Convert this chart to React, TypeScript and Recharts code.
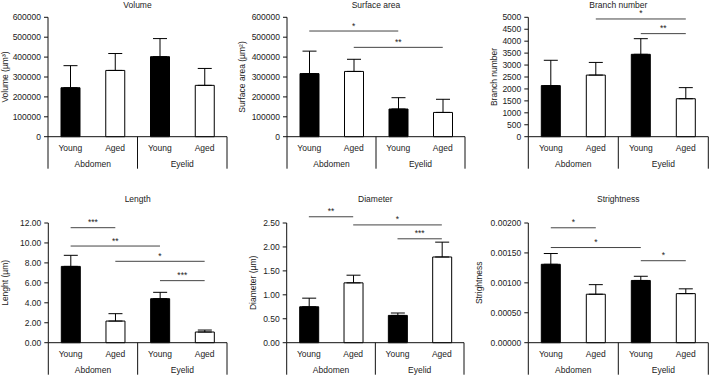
import { BarChart, Bar, XAxis, YAxis, ErrorBar, Cell, ReferenceLine, Customized } from "recharts";

const categories = ["Young", "Aged", "Young", "Aged"];
const groups = ["Abdomen", "Eyelid"];

// mean and upper SD per bar (Abdomen young, Abdomen aged, Eyelid young, Eyelid aged)
const volumeMean = [246000, 333000, 402000, 258000];
const volumeErr = [111000, 85000, 91000, 85000];
const volumeTicks = [0, 100000, 200000, 300000, 400000, 500000, 600000];

const surfaceMean = [317000, 328000, 139000, 122000];
const surfaceErr = [113000, 61000, 57000, 66000];
const surfaceTicks = [0, 100000, 200000, 300000, 400000, 500000, 600000];

const branchMean = [2140, 2580, 3450, 1590];
const branchErr = [1060, 530, 655, 465];
const branchTicks = [0, 500, 1000, 1500, 2000, 2500, 3000, 3500, 4000, 4500, 5000];

const lengthMean = [7.65, 2.17, 4.41, 1.07];
const lengthErr = [1.11, 0.74, 0.64, 0.2];
const lengthTicks = [0, 2, 4, 6, 8, 10, 12];

const diameterMean = [0.75, 1.25, 0.57, 1.79];
const diameterErr = [0.18, 0.16, 0.05, 0.31];
const diameterTicks = [0, 0.5, 1, 1.5, 2, 2.5];

const strightMean = [0.00131, 0.00081, 0.00104, 0.00082];
const strightErr = [0.00018, 0.00016, 0.00007, 0.00008];
const strightTicks = [0, 0.0005, 0.001, 0.0015, 0.002];

// significance brackets: [from bar, to bar, y value, stars]
type Sig = [number, number, number, string];
const surfaceSig: Sig[] = [[0, 2, 531000, "*"], [1, 3, 449000, "**"]];
const branchSig: Sig[] = [[1, 3, 4930, "*"], [2, 3, 4316, "**"]];
const lengthSig: Sig[] = [[0, 1, 11.53, "***"], [0, 2, 9.69, "**"], [1, 3, 8.16, "*"], [2, 3, 6.22, "***"]];
const diameterSig: Sig[] = [[0, 1, 2.63, "**"], [1, 3, 2.46, "*"], [2, 3, 2.17, "***"]];
const strightSig: Sig[] = [[0, 1, 0.00192, "*"], [0, 2, 0.00159, "*"], [2, 3, 0.00137, "*"]];

const TEXT = "#222";
const AXIS = "#111";
const SIG = "#444";
const FS = 8.5;

interface Box { left: number; top: number; w: number; h: number }
interface Plot { x0: number; x1: number; y0: number; y1: number }

interface PanelProps {
  title: string;
  yLabel: string;
  mean: number[];
  err: number[];
  ticks: number[];
  fmt: (v: number) => string;
  sig: Sig[];
  box: Box;
  plot: Plot;
  labelX: number;
  titleY: number;
}

function keyOf(i: number) {
  return `${groups[Math.floor(i / 2)]} ${categories[i]}`;
}

function Panel({ title, yLabel, mean, err, ticks, fmt, sig, box, plot, labelX, titleY }: PanelProps) {
  const band = (plot.x1 - plot.x0) / 4;
  const data = categories.map((_, i) => ({ key: keyOf(i), value: mean[i], err: [0, err[i]] }));
  const margin = {
    top: plot.y0 - box.top,
    right: box.left + box.w - plot.x1,
    left: 0,
    bottom: box.top + box.h - plot.y1 - 20,
  };
  const midY = (plot.y0 + plot.y1) / 2 - box.top;
  const lx = labelX - box.left;

  const renderTick = (props: any) => {
    const { x, y } = props;
    const index = props.index ?? props.payload?.index ?? 0;
    const half = band / 2;
    return (
      <g>
        <text x={x} y={y + 11} textAnchor="middle" dominantBaseline="central" fontSize={FS} fill={TEXT}>
          {categories[index]}
        </text>
        {index === 0 && <line x1={x - half} x2={x - half} y1={y} y2={y + 32} stroke={AXIS} />}
        {index % 2 === 1 && (
          <>
            <line x1={x + half} x2={x + half} y1={y} y2={y + 32} stroke={AXIS} />
            <text x={x - half} y={y + 27.5} textAnchor="middle" dominantBaseline="central" fontSize={FS} fill={TEXT}>
              {groups[(index - 1) / 2]}
            </text>
          </>
        )}
      </g>
    );
  };

  return (
    <div style={{ position: "absolute", left: box.left, top: box.top, width: box.w, height: box.h }}>
      <BarChart width={box.w} height={box.h} data={data} margin={margin}>
        <XAxis
          dataKey="key"
          height={20}
          tickSize={0}
          tickMargin={0}
          interval={0}
          tickLine={false}
          axisLine={{ stroke: AXIS }}
          tick={renderTick}
        />
        <YAxis
          type="number"
          domain={[0, ticks[ticks.length - 1]]}
          ticks={ticks}
          interval={0}
          tickFormatter={fmt}
          width={plot.x0 - box.left}
          tickSize={4}
          tickMargin={3}
          axisLine={{ stroke: AXIS }}
          tickLine={{ stroke: AXIS }}
          tick={{ fontSize: FS, fill: TEXT }}
        />
        <Bar dataKey="value" barSize={19} stroke="#000" strokeWidth={1} isAnimationActive={false}>
          {data.map((d, i) => (
            <Cell key={d.key} fill={i % 2 === 0 ? "#000" : "#fff"} />
          ))}
          <ErrorBar dataKey="err" width={7} stroke="#000" strokeWidth={1} direction="y" isAnimationActive={false} />
        </Bar>
        {sig.map(([a, b, v, stars], i) => (
          <ReferenceLine
            key={i}
            segment={[{ x: keyOf(a), y: v }, { x: keyOf(b), y: v }]}
            stroke={SIG}
            strokeWidth={1}
            ifOverflow="visible"
            label={{ value: stars, position: "top", offset: 2.5, fontSize: FS, fill: TEXT }}
          />
        ))}
        <Customized
          component={
            <g>
              <text x={(plot.x0 + plot.x1) / 2 - box.left} y={titleY - box.top} textAnchor="middle" dominantBaseline="central" fontSize={FS} fill={TEXT}>
                {title}
              </text>
              <text
                x={lx}
                y={midY}
                textAnchor="middle"
                dominantBaseline="central"
                fontSize={FS}
                fill={TEXT}
                transform={`rotate(-90 ${lx} ${midY})`}
              >
                {yLabel}
              </text>
            </g>
          }
        />
      </BarChart>
    </div>
  );
}

const intFmt = (v: number) => String(v);
const fix2 = (v: number) => v.toFixed(2);
const fix5 = (v: number) => v.toFixed(5);

export default function App() {
  return (
    <div
      style={{
        position: "absolute",
        left: 0,
        top: 0,
        width: 709,
        height: 376,
        background: "#fff",
        overflow: "hidden",
        fontFamily: "'Liberation Sans', Arial, sans-serif",
      }}
    >
      <Panel
        title="Volume"
        yLabel="Volume (µm³)"
        mean={volumeMean}
        err={volumeErr}
        ticks={volumeTicks}
        fmt={intFmt}
        sig={[]}
        box={{ left: 0, top: 0, w: 236, h: 186 }}
        plot={{ x0: 48, x1: 227, y0: 17.3, y1: 136.7 }}
        labelX={5}
        titleY={5}
      />
      <Panel
        title="Surface area"
        yLabel="Surface area (µm²)"
        mean={surfaceMean}
        err={surfaceErr}
        ticks={surfaceTicks}
        fmt={intFmt}
        sig={surfaceSig}
        box={{ left: 236, top: 0, w: 236, h: 186 }}
        plot={{ x0: 287, x1: 465, y0: 17.3, y1: 136.7 }}
        labelX={242}
        titleY={5}
      />
      <Panel
        title="Branch number"
        yLabel="Branch number"
        mean={branchMean}
        err={branchErr}
        ticks={branchTicks}
        fmt={intFmt}
        sig={branchSig}
        box={{ left: 472, top: 0, w: 237, h: 186 }}
        plot={{ x0: 528.3, x1: 708.3, y0: 17.3, y1: 136.7 }}
        labelX={494}
        titleY={5}
      />
      <Panel
        title="Length"
        yLabel="Lenght (µm)"
        mean={lengthMean}
        err={lengthErr}
        ticks={lengthTicks}
        fmt={fix2}
        sig={lengthSig}
        box={{ left: 0, top: 186, w: 236, h: 190 }}
        plot={{ x0: 48.3, x1: 227, y0: 223, y1: 342.7 }}
        labelX={5}
        titleY={199.3}
      />
      <Panel
        title="Diameter"
        yLabel="Diameter (µm)"
        mean={diameterMean}
        err={diameterErr}
        ticks={diameterTicks}
        fmt={fix2}
        sig={diameterSig}
        box={{ left: 236, top: 186, w: 236, h: 190 }}
        plot={{ x0: 286.7, x1: 464, y0: 223, y1: 342.7 }}
        labelX={253}
        titleY={199.3}
      />
      <Panel
        title="Strightness"
        yLabel="Strightness"
        mean={strightMean}
        err={strightErr}
        ticks={strightTicks}
        fmt={fix5}
        sig={strightSig}
        box={{ left: 472, top: 186, w: 237, h: 190 }}
        plot={{ x0: 528.3, x1: 708.3, y0: 223, y1: 342.7 }}
        labelX={479}
        titleY={199.3}
      />
    </div>
  );
}
